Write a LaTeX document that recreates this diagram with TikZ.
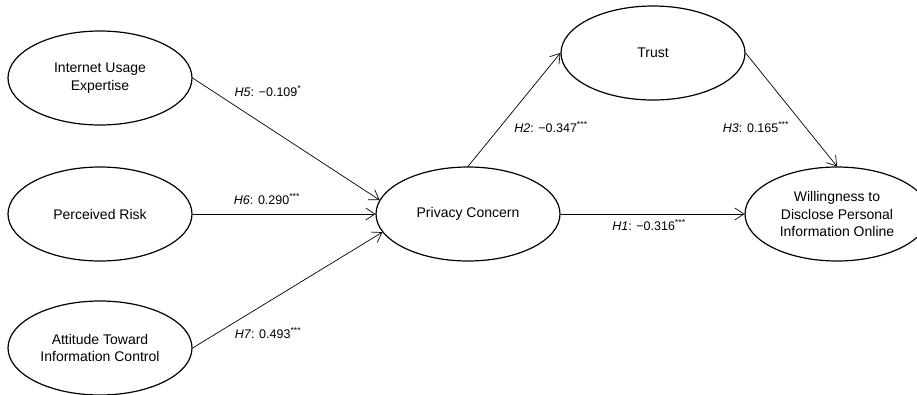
\documentclass[tikz,border=0pt]{standalone}
\usepackage{fontspec}
\setmainfont{Liberation Sans}
\usetikzlibrary{arrows.meta,shapes.geometric}
\begin{document}
\begin{tikzpicture}[x=1pt,y=-1pt,
  construct/.style={draw,line width=1.2pt,ellipse,minimum width=184pt,minimum height=94pt,inner sep=0pt,align=center,font=\fontsize{14}{17.5}\selectfont},
  link/.style={line width=0.7pt,-{Straight Barb[length=9pt,width=12pt,line width=0.7pt]}},
  coef/.style={font=\fontsize{12.5}{15}\selectfont,inner sep=0pt}]
\useasboundingbox (0,0) rectangle (917,394);
\node[construct] (ie) at (100,78) {Internet Usage\\Expertise};
\node[construct] (pr) at (100,214) {Perceived Risk};
\node[construct] (at) at (100,348) {Attitude Toward\\Information Control};
\node[construct] (pc) at (468,214) {Privacy Concern};
\node[construct] (tr) at (653,53) {Trust};
\node[construct] (wi) at (837,214) {Willingness to\\Disclose Personal\\Information Online};
\draw[link] (ie.east) -- (pc.171);
\draw[link] (pr.east) -- (pc.west);
\draw[link] (at.east) -- (pc.192);
\draw[link] (pc.north) -- (tr.west);
\draw[link] (tr.east) -- (wi.north);
\draw[link] (pc.east) -- (wi.west);
\node[coef] (l5) at (268,91) {\textit{H5}: −0.109\textsuperscript{*}};
\node[coef] (l6) at (267,199) {\textit{H6}: 0.290\textsuperscript{***}};
\node[coef] (l7) at (268,333) {\textit{H7}: 0.493\textsuperscript{***}};
\node[coef] (l2) at (551,127) {\textit{H2}: −0.347\textsuperscript{***}};
\node[coef] (l3) at (756,127) {\textit{H3}: 0.165\textsuperscript{***}};
\node[coef] (l1) at (649,225) {\textit{H1}: −0.316\textsuperscript{***}};
\end{tikzpicture}
\end{document}
